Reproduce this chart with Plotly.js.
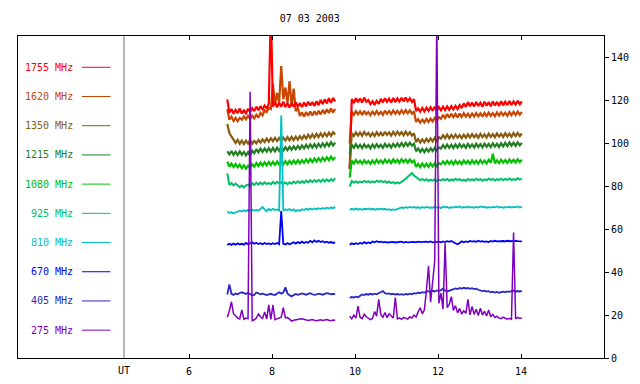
<!DOCTYPE html>
<html>
<head>
<meta charset="utf-8">
<script src="https://cdn.plot.ly/plotly-3.0.1.min.js"></script>
<style>html,body{margin:0;padding:0;background:#fff;}#chart{width:640px;height:384px;}</style>
</head>
<body>
<div id="chart"></div>
<script>
// ---- data ----
const chartTitle = "07 03 2003";
const frequencies = ["1755 MHz","1620 MHz","1350 MHz","1215 MHz","1080 MHz","925 MHz","810 MHz","670 MHz","405 MHz","275 MHz"];
const seriesColors = ["#ff0000","#c84600","#885c10","#208020","#00c000","#00c068","#00c0c0","#0000ff","#2828c8","#8000c0"];
const xTickVals = [6, 8, 10, 12, 14];
const xTickText = ["6", "8", "10", "12", "14"];
const yTickVals = [0, 20, 40, 60, 80, 100, 120, 140];
const utMarker = 4.43;

// sampling of the two observing segments (UT hours)
const seg1Start = 6.92, seg2Start = 9.87, sampleStep = 0.05;

const f1755_a = [120.5,114.2,116.0,113.8,115.6,114.1,116.2,113.9,115.3,114.0,116.1,114.6,116.4,115.0,117.1,115.4,117.3,115.8,117.6,116.2,118.4,162,117.0,119.2,116.8,118.9,117.1,119.4,116.9,118.6,116.7,118.8,117.0,119.1,117.3,118.5,116.9,119.0,117.2,119.4,117.6,119.2,117.4,119.6,117.8,120.2,118.3,120.5,118.6,121.0,118.9,121.2,119.5];
const f1755_b = [88.0,120.6,118.8,121.0,119.2,120.9,119.0,121.3,119.4,120.2,118.3,119.6,117.9,119.8,118.4,120.7,119.1,121.0,119.3,120.8,119.0,121.1,119.2,120.9,119.4,121.2,119.5,121.3,119.6,121.0,119.3,120.6,115.0,116.3,114.8,116.5,114.9,116.6,115.1,116.8,115.2,117.0,115.3,116.9,115.4,117.1,115.5,117.2,115.6,117.3,115.8,117.5,116.0,117.8,116.4,118.6,117.0,119.2,117.3,119.0,117.2,119.3,117.4,118.9,117.1,119.4,117.5,119.2,117.3,119.5,117.6,119.3,117.4,119.6,117.7,119.4,117.8,119.7,117.9,119.5,118.0,119.8,118.2,119.6];

const f1620_a = [116.0,111.0,112.4,110.5,111.9,110.3,111.8,111.0,112.6,111.2,112.8,111.4,113.0,111.6,113.4,112.0,114.2,113.0,115.3,114.6,116.5,116.0,127.6,118.0,123.5,119.0,136.0,120.5,126.0,118.5,129.0,117.5,125.5,115.0,116.5,112.8,114.4,112.5,114.6,112.9,114.8,113.0,114.9,113.2,115.2,113.5,115.6,113.8,115.9,114.1,116.2,114.4,116.0];
const f1620_b = [100.0,114.8,113.3,115.0,113.5,114.9,113.2,115.1,113.6,114.6,113.1,114.8,113.4,115.0,113.5,114.7,113.3,115.2,113.7,115.0,113.6,115.3,113.8,115.1,113.7,115.4,113.9,115.5,114.0,115.4,113.8,114.9,110.0,111.2,109.6,111.0,109.7,111.3,109.9,111.5,110.2,111.8,110.5,112.2,111.4,113.3,111.8,113.6,112.0,113.8,112.2,113.7,112.1,113.9,112.3,114.0,112.4,113.8,112.2,113.9,112.5,114.1,112.6,114.0,112.4,114.2,112.7,114.3,112.8,114.1,112.6,114.4,112.9,114.5,113.0,114.3,112.8,114.6,113.1,114.7,113.2,114.8,113.4,114.6];

const f1350_a = [109.0,104.8,103.2,101.9,100.2,101.6,99.8,101.3,99.6,101.2,99.9,101.5,99.7,101.1,100.0,101.6,100.3,101.8,100.6,102.2,100.8,102.4,101.0,102.6,101.1,102.5,101.0,102.7,101.3,102.9,101.4,103.0,101.5,103.1,101.7,103.3,102.0,103.6,102.2,104.0,102.5,104.2,102.7,104.4,102.9,104.6,103.1,104.8,103.3,105.0,103.5,105.2,104.1];
const f1350_b = [88.5,104.8,103.4,105.1,103.6,105.0,103.5,105.3,103.8,104.9,103.3,104.8,103.4,105.2,103.7,105.0,103.5,105.4,103.9,105.1,103.6,105.3,103.8,105.5,104.0,105.2,103.7,105.4,103.9,105.2,103.6,104.7,100.6,102.0,100.4,101.8,100.5,102.1,100.7,102.3,100.9,102.6,101.1,102.9,102.2,103.8,102.4,104.0,102.3,103.9,102.5,104.1,102.6,103.8,102.4,104.0,102.6,104.2,102.7,104.3,102.8,104.1,102.6,104.4,102.9,104.2,102.7,104.5,103.0,104.3,102.8,104.6,103.1,104.4,102.9,104.7,103.2,104.5,103.0,104.8,103.3,104.9,103.4,104.6];

const f1215_a = [96.3,94.8,96.4,94.6,96.1,94.5,96.2,94.7,96.0,94.4,95.9,94.3,96.6,95.4,97.3,95.8,97.5,96.0,97.6,96.1,97.8,96.2,97.9,96.3,98.0,96.5,98.1,96.6,98.2,96.8,98.4,97.0,98.6,97.2,98.8,97.4,99.0,97.6,99.3,97.9,99.5,98.0,99.6,98.1,99.8,98.3,100.0,98.5,100.2,98.7,100.5,99.0,100.3];
const f1215_b = [95.0,99.4,97.9,99.6,98.0,99.3,97.8,99.5,98.1,99.2,97.7,99.4,98.0,99.6,98.2,99.3,97.9,99.7,98.3,99.5,98.0,99.8,98.4,99.9,98.5,100.1,98.6,100.2,98.8,100.3,98.9,99.8,96.3,97.6,96.0,97.4,95.9,97.5,96.2,97.7,96.4,97.9,96.6,98.1,97.6,99.2,97.8,99.4,97.9,99.3,97.8,99.5,98.0,99.6,98.1,99.4,97.9,99.7,98.2,99.5,98.0,99.8,98.3,99.6,98.1,99.9,98.4,99.7,98.2,100.0,98.5,99.8,98.3,100.1,98.6,100.2,98.7,100.4,98.9,100.3,98.8,100.5,99.0,100.2];

const f1080_a = [91.5,89.2,90.6,89.0,90.4,88.8,90.1,88.4,89.8,88.2,89.6,88.5,90.3,89.1,90.8,89.4,91.0,89.6,91.2,89.8,91.3,89.9,91.4,90.0,91.5,90.1,91.6,90.2,91.7,90.3,91.8,90.5,92.0,90.6,92.1,90.7,92.2,90.9,92.5,91.1,92.7,91.3,92.9,91.5,93.1,91.7,93.3,91.9,93.5,92.1,93.8,92.4,93.6];
const f1080_b = [84.0,92.0,90.6,92.2,90.8,91.9,90.5,92.1,90.7,91.8,90.4,92.0,90.6,92.3,90.9,92.1,90.7,92.4,91.0,92.2,90.8,92.5,91.1,92.3,90.9,92.6,91.2,92.4,91.0,92.5,91.1,92.0,89.0,90.4,88.9,90.6,89.1,90.5,89.0,90.7,89.2,90.6,89.3,90.8,90.2,91.6,90.3,91.8,90.4,91.7,90.2,91.9,90.5,91.6,90.3,92.0,90.6,91.8,90.4,92.1,90.7,91.9,90.5,92.2,90.8,92.0,90.6,92.3,90.9,95.2,90.7,92.1,90.8,92.4,91.0,92.2,90.9,92.5,91.1,92.3,91.0,92.6,91.2,92.4];

const f925_a = [86.0,80.6,81.5,80.4,81.3,80.2,79.6,80.3,79.5,80.4,80.8,80.0,81.4,80.6,81.6,80.8,81.7,80.9,81.8,81.0,81.6,80.9,82.0,81.2,82.1,81.3,81.9,81.1,81.8,81.0,81.9,81.2,82.2,81.4,82.3,81.5,82.4,81.6,82.6,81.8,82.8,81.9,82.9,82.0,83.0,82.1,83.1,82.2,83.2,82.3,83.3,82.5,83.8];
const f925_b = [79.8,82.4,81.7,82.3,81.6,82.2,81.8,82.5,81.9,82.4,81.7,82.3,81.8,82.6,82.0,82.5,81.9,82.4,81.6,82.2,81.5,81.9,81.3,81.8,81.4,82.0,82.6,83.5,84.4,85.5,86.2,85.0,84.3,83.2,82.8,83.4,82.7,83.3,82.5,83.1,82.6,83.2,82.4,83.0,82.7,83.3,82.8,83.4,82.6,83.2,82.7,83.5,82.9,83.3,82.6,83.1,82.5,83.4,82.8,83.2,82.7,83.5,82.9,83.3,82.6,83.2,82.8,83.6,83.0,83.4,82.7,83.3,82.9,83.5,82.8,83.4,83.0,83.6,82.9,83.3,83.0,83.7,83.1,83.6];

const f810_a = [68.3,67.6,67.9,67.4,67.8,68.1,68.6,68.2,68.8,68.4,69.0,68.6,69.1,68.7,69.0,68.6,69.3,70.3,69.2,68.4,69.4,68.8,69.5,68.9,69.2,68.7,113.0,68.6,69.3,68.8,69.4,68.7,69.2,68.3,68.9,68.5,69.3,68.9,69.5,69.1,69.6,69.2,69.7,69.3,69.8,69.4,69.9,69.5,70.0,69.6,70.1,69.8,70.4];
const f810_b = [69.0,69.5,69.1,69.6,69.2,69.4,69.0,69.5,69.3,69.7,69.2,69.5,69.1,69.4,69.3,69.6,69.2,69.5,69.0,69.3,68.9,69.2,69.0,69.4,69.8,70.1,69.9,70.3,70.0,70.4,70.1,70.3,70.0,70.2,69.9,70.3,70.0,70.4,70.1,70.2,70.0,70.5,70.1,70.3,69.8,70.6,70.2,70.4,69.9,70.3,70.1,70.5,70.2,70.6,70.0,70.4,70.1,70.5,70.2,70.3,70.0,70.4,70.1,70.6,70.2,70.5,70.0,70.3,70.1,70.4,70.2,70.6,70.1,70.4,70.0,70.3,70.2,70.5,70.1,70.4,70.2,70.6,70.1,70.4];

const f670_a = [52.6,53.2,52.7,53.3,52.8,53.4,52.9,53.2,52.8,53.6,53.0,53.4,53.9,53.2,53.7,53.1,53.5,53.0,53.6,53.1,53.4,53.0,53.5,53.1,53.6,53.0,68.5,53.2,52.9,53.5,53.0,53.4,53.9,53.3,54.0,53.5,54.2,53.6,54.1,53.7,54.6,53.9,54.8,54.1,54.6,54.0,54.4,53.8,54.2,53.7,54.0,53.6,53.9];
const f670_b = [52.8,53.4,53.0,53.5,53.1,53.6,53.2,54.0,53.4,53.8,53.5,54.3,53.9,54.4,54.0,54.2,53.9,54.1,53.8,54.0,53.9,54.1,53.8,54.0,53.9,54.2,53.8,54.1,53.9,54.0,53.8,54.1,53.9,54.2,54.0,54.1,53.9,54.2,54.0,54.3,53.9,54.1,54.0,54.2,53.9,54.3,54.0,54.4,54.1,54.5,53.9,53.4,53.0,53.6,54.4,53.9,54.3,54.0,54.5,54.2,54.4,54.1,54.6,54.2,54.4,54.1,54.3,54.0,54.5,54.2,54.6,54.3,54.4,54.2,54.5,54.3,54.6,54.4,54.5,54.3,54.6,54.4,54.5,54.3];

const f405_a = [29.6,34.3,29.9,29.4,30.0,29.7,30.3,30.6,30.2,29.8,30.4,29.6,29.2,29.4,30.5,30.1,29.7,30.0,29.5,29.3,29.6,29.9,29.5,29.3,30.0,30.6,30.0,30.5,32.9,30.1,29.2,28.7,29.3,29.8,29.4,29.7,30.1,29.8,29.5,29.9,30.2,29.7,29.4,29.6,30.0,29.8,29.5,29.9,30.2,30.0,29.7,29.9,29.8];
const f405_b = [28.0,28.4,28.2,28.6,28.3,29.1,29.6,29.3,29.8,29.5,29.9,29.6,30.0,29.7,30.1,30.6,31.2,30.2,29.9,30.1,29.7,29.9,29.6,29.8,29.5,29.7,29.4,29.8,29.6,30.0,29.7,30.2,30.0,30.4,30.3,30.7,30.5,30.9,31.1,30.8,31.3,31.0,31.5,31.2,31.6,32.4,31.4,31.0,31.3,31.7,32.0,32.4,32.1,32.6,32.3,32.7,32.4,32.6,32.2,32.5,32.1,32.3,31.8,31.5,31.2,31.4,30.9,31.1,30.6,30.9,30.5,30.8,30.4,30.7,30.9,30.6,31.0,30.8,31.1,31.4,30.9,31.2,31.0,31.3];

const f275_a = [19.0,22.0,26.2,20.5,19.6,18.6,18.2,22.4,18.0,18.6,18.3,124.0,17.4,17.8,18.6,20.5,19.2,18.4,21.5,18.2,24.7,18.0,24.7,17.8,18.2,18.6,19.0,23.4,18.7,18.9,17.9,17.2,17.6,17.9,18.0,18.2,18.3,18.0,17.6,17.5,17.7,17.9,17.6,17.4,17.6,17.8,17.5,17.7,17.9,17.6,17.4,17.7,17.6];
const f275_b = [19.5,18.2,20.0,18.6,24.2,19.0,18.3,20.4,19.2,18.5,17.9,18.4,21.6,19.5,27.3,20.2,19.0,21.2,18.8,20.6,19.4,18.6,28.1,18.2,18.7,18.0,18.9,18.3,18.1,19.2,18.6,20.0,19.1,21.5,23.4,20.6,22.4,31.5,42.8,26.0,37.0,45.2,160,25.5,30.2,22.8,53.4,23.5,25.0,28.6,22.2,24.4,21.0,23.1,20.5,22.0,20.8,27.3,20.1,24.0,20.3,22.7,19.8,23.2,20.0,21.8,19.6,22.4,19.2,20.3,18.9,19.5,18.6,18.3,19.0,18.4,18.1,18.5,18.0,58.4,18.2,18.9,18.4,18.6];

const segA = [f1755_a,f1620_a,f1350_a,f1215_a,f1080_a,f925_a,f810_a,f670_a,f405_a,f275_a];
const segB = [f1755_b,f1620_b,f1350_b,f1215_b,f1080_b,f925_b,f810_b,f670_b,f405_b,f275_b];
const lineWidths = [2.2,2.2,2.2,2.2,2.2,2,1.8,1.8,1.8,1.5];

// ---- build traces ----
function times(start, n){ const t=[]; for(let i=0;i<n;i++) t.push(+(start+i*sampleStep).toFixed(4)); return t; }
const drawOrder = [1,0,2,3,4,5,6,7,8,9];
const traces = drawOrder.map(k => {
  const a = segA[k], b = segB[k];
  return {
    type:'scatter', mode:'lines',
    x: times(seg1Start, a.length).concat([null], times(seg2Start, b.length)),
    y: a.concat([null], b),
    line:{color:seriesColors[k], width:lineWidths[k]},
    connectgaps:false, hoverinfo:'skip', name:frequencies[k]
  };
});

// ---- legend (text left of a short coloured line) ----
const legTop = 0.9028, legGap = 0.0907;
const annotations = [];
const shapes = [{type:'line', xref:'x', yref:'paper', x0:utMarker, x1:utMarker, y0:0, y1:1, line:{color:'#6e6e6e', width:1}}];
frequencies.forEach((f,k) => {
  const yy = legTop - k*legGap;
  annotations.push({xref:'paper', yref:'paper', x:0.0975, y:yy, text:f, showarrow:false, xanchor:'right', yanchor:'middle', font:{color:seriesColors[k], size:10, family:'DejaVu Sans Mono'}});
  shapes.push({type:'line', xref:'paper', yref:'paper', x0:0.1092, x1:0.1578, y0:yy, y1:yy, line:{color:seriesColors[k], width:1}});
});
annotations.push({xref:'x', yref:'paper', x:utMarker, y:0, yshift:-5, text:'UT', showarrow:false, xanchor:'center', yanchor:'top', font:{size:10, family:'DejaVu Sans Mono', color:'#000'}});

const layout = {
  width:640, height:384,
  margin:{l:18, r:36, t:36, b:26, pad:0},
  paper_bgcolor:'#ffffff', plot_bgcolor:'#ffffff',
  showlegend:false,
  font:{family:'DejaVu Sans Mono', size:10, color:'#000'},
  title:{text:chartTitle, x:0.484, xanchor:'center', y:0.953, yanchor:'middle', font:{size:10, family:'DejaVu Sans Mono', color:'#000'}},
  xaxis:{range:[1.875,16], tickvals:xTickVals, ticktext:xTickText, ticks:'inside', ticklen:4, tickcolor:'#000',
         showline:true, linecolor:'#000', linewidth:1, mirror:'ticks', showgrid:false, zeroline:false,
         ticklabelstandoff:4, tickfont:{size:10, family:'DejaVu Sans Mono'}},
  yaxis:{range:[0,150], side:'right', tickvals:yTickVals, ticks:'outside', ticklen:4, tickcolor:'#000',
         showline:true, linecolor:'#000', linewidth:1, mirror:true, showgrid:false, zeroline:false,
         tickfont:{size:10, family:'DejaVu Sans Mono'}},
  annotations:annotations, shapes:shapes
};

Plotly.newPlot('chart', traces, layout, {staticPlot:true, displayModeBar:false});
</script>
</body>
</html>
